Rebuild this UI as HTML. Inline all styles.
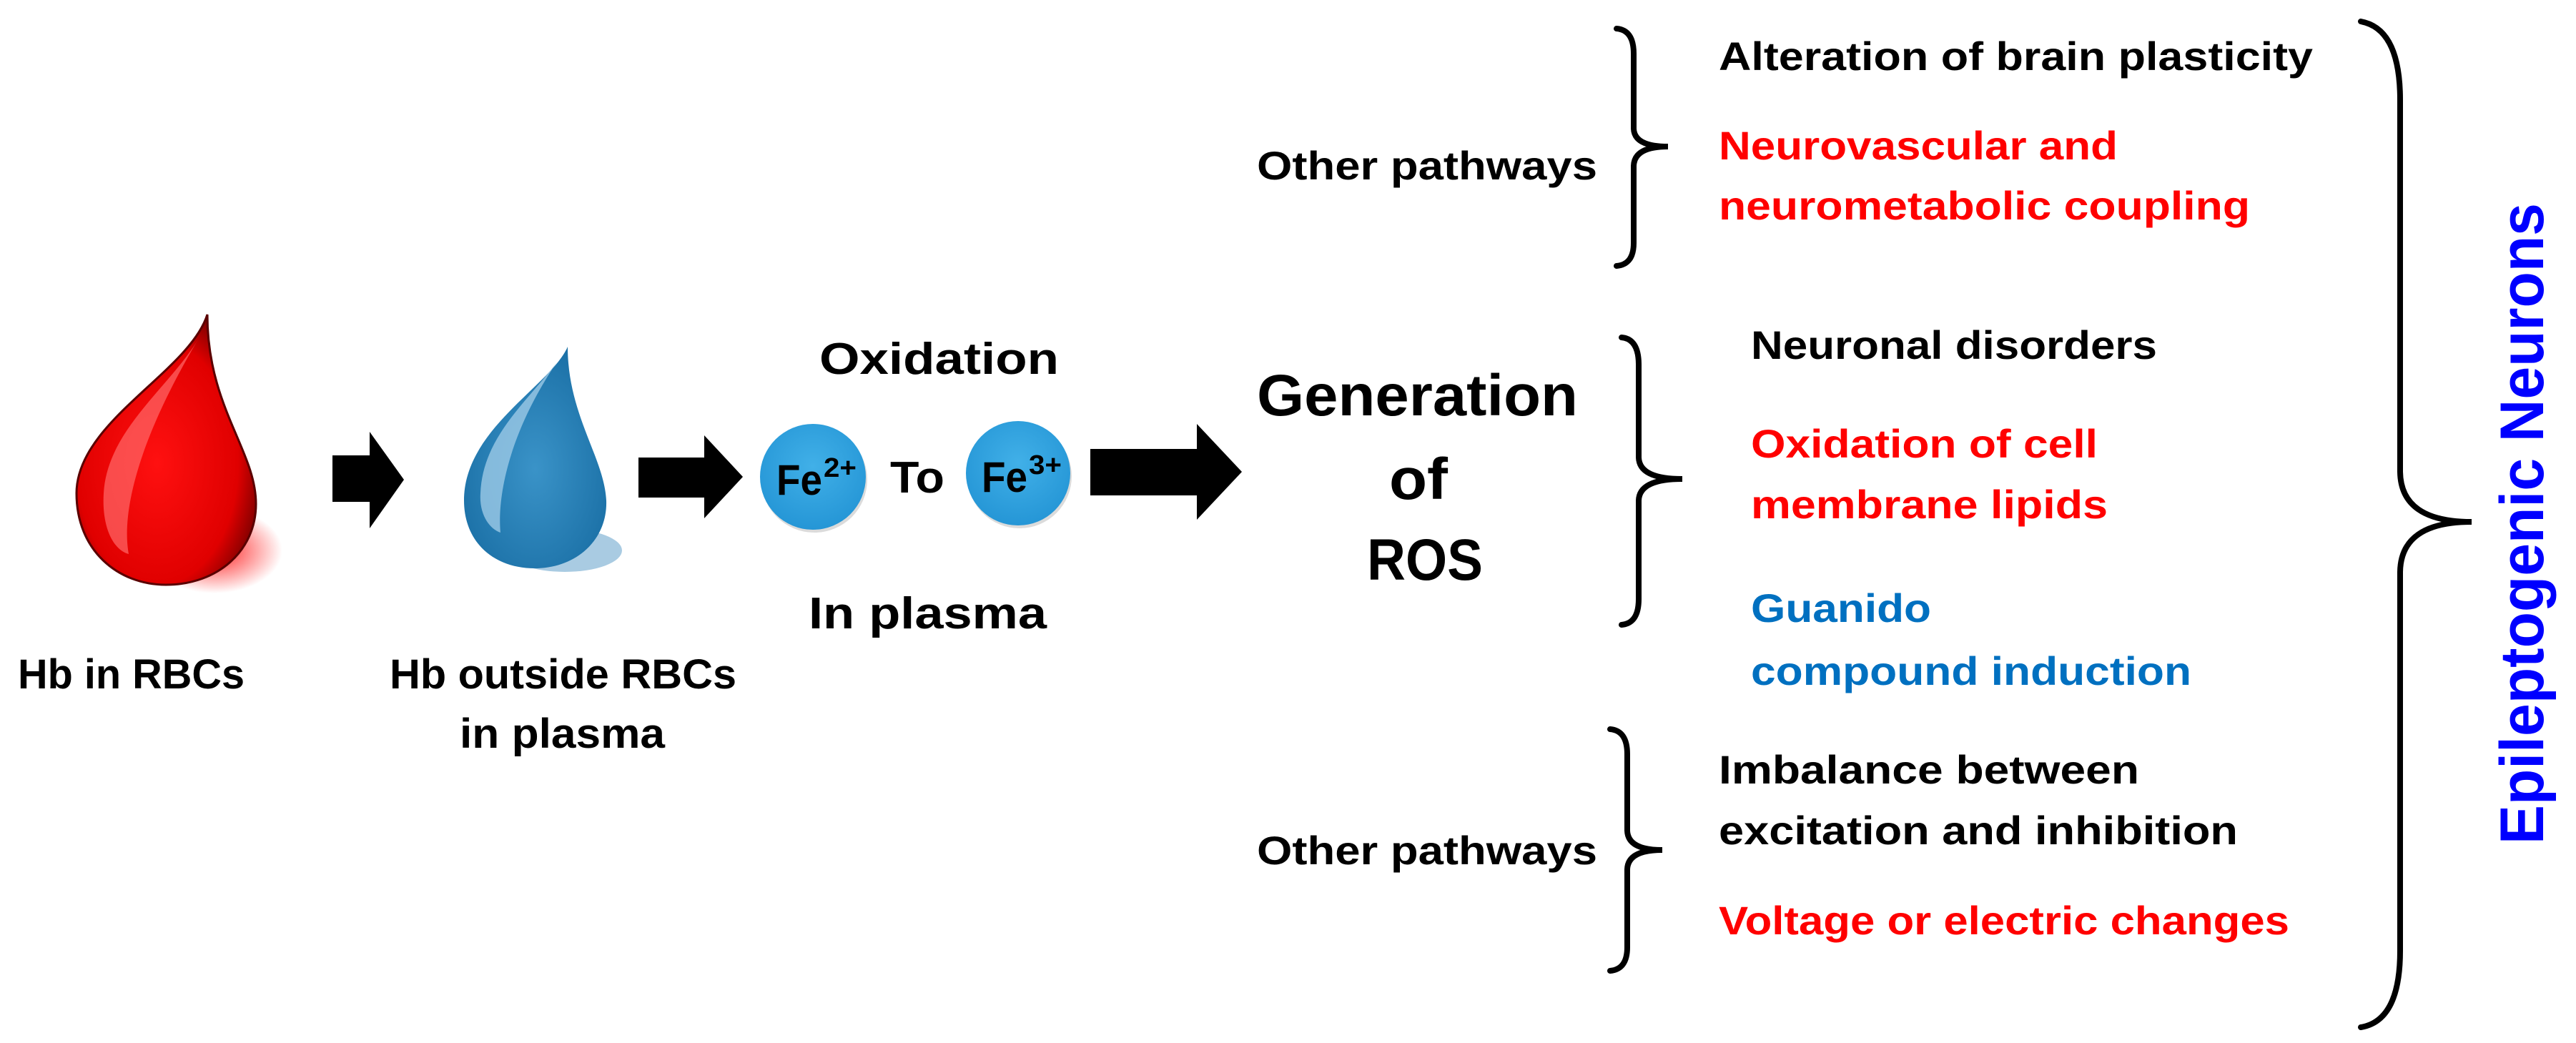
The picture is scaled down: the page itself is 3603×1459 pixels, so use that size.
<!DOCTYPE html>
<html><head><meta charset="utf-8"><style>
html,body{margin:0;padding:0;background:#fff;}
svg{display:block;}
text{font-family:"Liberation Sans",sans-serif;font-weight:bold;}
</style></head><body>
<svg width="3603" height="1459" viewBox="0 0 3603 1459" xmlns="http://www.w3.org/2000/svg">
<defs>
<radialGradient id="rg" cx="0.45" cy="0.55" r="0.6">
<stop offset="0" stop-color="#ff1010"/><stop offset="0.75" stop-color="#e00000"/><stop offset="1" stop-color="#7a0000"/>
</radialGradient>
<radialGradient id="bg" cx="0.5" cy="0.55" r="0.6">
<stop offset="0" stop-color="#3a93c8"/><stop offset="1" stop-color="#1a6fa5"/>
</radialGradient>
<radialGradient id="cg" cx="0.5" cy="0.4" r="0.6">
<stop offset="0" stop-color="#41b0e8"/><stop offset="1" stop-color="#2596d6"/>
</radialGradient>
<radialGradient id="rs" cx="0.5" cy="0.5" r="0.5">
<stop offset="0" stop-color="#ff0000" stop-opacity="0.9"/><stop offset="1" stop-color="#ff0000" stop-opacity="0"/>
</radialGradient>
</defs>

<!-- red drop -->
<ellipse cx="300" cy="770" rx="95" ry="60" fill="url(#rs)"/>
<path d="M290,440 C265,520 107,590 107,690 C107,770 165,818 232,818 C305,818 358,770 358,705 C358,630 290,570 290,440 Z" fill="url(#rg)" stroke="#5a0000" stroke-width="3"/>
<path d="M280,470 C240,540 150,600 145,690 C142,740 160,770 180,775 C170,720 190,620 280,470 Z" fill="#ff6a6a" opacity="0.7"/>

<!-- blue drop -->
<ellipse cx="790" cy="770" rx="80" ry="30" fill="#6fa9cf" opacity="0.6"/>
<path d="M794,485 C770,540 649,600 649,700 C649,758 690,795 748,795 C806,795 850,755 848,700 C845,640 794,580 794,485 Z" fill="url(#bg)"/>
<path d="M780,505 C740,560 675,610 672,690 C670,720 685,740 700,745 C695,690 715,600 780,505 Z" fill="#9cc9e6" opacity="0.8"/>

<!-- arrows -->
<polygon points="465,637 517,637 517,604 565,671 517,739 517,702 465,702" fill="#000"/>
<polygon points="893,640 985,640 985,609 1039,667 985,725 985,696 893,696" fill="#000"/>
<polygon points="1525,628 1674,628 1674,593 1737,660 1674,727 1674,693 1525,693" fill="#000"/>

<!-- circles -->
<circle cx="1139" cy="671" r="74" fill="#999" opacity="0.35"/>
<circle cx="1137" cy="667" r="74" fill="url(#cg)"/>
<circle cx="1426" cy="666" r="73" fill="#999" opacity="0.35"/>
<circle cx="1424" cy="662" r="73" fill="url(#cg)"/>
<text x="1086" y="692" font-size="60" textLength="64" lengthAdjust="spacingAndGlyphs">Fe</text>
<text x="1152" y="667" font-size="38" textLength="46" lengthAdjust="spacingAndGlyphs">2+</text>
<text x="1373" y="688" font-size="60" textLength="64" lengthAdjust="spacingAndGlyphs">Fe</text>
<text x="1439" y="663" font-size="38" textLength="46" lengthAdjust="spacingAndGlyphs">3+</text>
<text x="1245" y="689" font-size="62" textLength="76" lengthAdjust="spacingAndGlyphs">To</text>

<!-- left labels -->
<text x="25" y="963" font-size="58" textLength="317" lengthAdjust="spacingAndGlyphs">Hb in RBCs</text>
<text x="545" y="963" font-size="58" textLength="485" lengthAdjust="spacingAndGlyphs">Hb outside RBCs</text>
<text x="643" y="1046" font-size="58" textLength="287" lengthAdjust="spacingAndGlyphs">in plasma</text>
<text x="1146" y="523" font-size="62" textLength="335" lengthAdjust="spacingAndGlyphs">Oxidation</text>
<text x="1131" y="879" font-size="62" textLength="333" lengthAdjust="spacingAndGlyphs">In plasma</text>

<text x="1758" y="581" font-size="82" textLength="449" lengthAdjust="spacingAndGlyphs">Generation</text>
<text x="1943" y="698" font-size="82" textLength="82" lengthAdjust="spacingAndGlyphs">of</text>
<text x="1912" y="811" font-size="82" textLength="162" lengthAdjust="spacingAndGlyphs">ROS</text>

<text x="1758" y="251" font-size="56" textLength="476" lengthAdjust="spacingAndGlyphs">Other pathways</text>
<text x="1758" y="1209" font-size="56" textLength="476" lengthAdjust="spacingAndGlyphs">Other pathways</text>

<!-- braces -->
<g fill="none" stroke="#000" stroke-width="8" stroke-linecap="round">
<path d="M2261,40 Q2285,42 2285,75 L2285,180 Q2286,205 2333,205 Q2286,205 2285,232 L2285,340 Q2285,370 2261,372"/>
<path d="M2268,472 Q2292,474 2292,510 L2292,640 Q2293,670 2353,670 Q2293,670 2292,700 L2292,838 Q2292,872 2268,874"/>
<path d="M2252,1020 Q2276,1022 2276,1055 L2276,1162 Q2277,1189 2325,1189 Q2277,1189 2276,1216 L2276,1325 Q2276,1356 2252,1358"/>
<path d="M3302,30 Q3357,40 3357,140 L3357,660 Q3358,730 3457,730 Q3358,730 3357,800 L3357,1330 Q3357,1428 3302,1437"/>
</g>

<!-- right texts -->
<text x="2404" y="98" font-size="56" textLength="831" lengthAdjust="spacingAndGlyphs">Alteration of brain plasticity</text>
<text x="2404" y="223" font-size="56" fill="#ff0000" textLength="558" lengthAdjust="spacingAndGlyphs">Neurovascular and</text>
<text x="2404" y="307" font-size="56" fill="#ff0000" textLength="743" lengthAdjust="spacingAndGlyphs">neurometabolic coupling</text>
<text x="2449" y="502" font-size="56" textLength="568" lengthAdjust="spacingAndGlyphs">Neuronal disorders</text>
<text x="2449" y="640" font-size="56" fill="#ff0000" textLength="485" lengthAdjust="spacingAndGlyphs">Oxidation of cell</text>
<text x="2449" y="725" font-size="56" fill="#ff0000" textLength="499" lengthAdjust="spacingAndGlyphs">membrane lipids</text>
<text x="2449" y="870" font-size="56" fill="#0070c0" textLength="252" lengthAdjust="spacingAndGlyphs">Guanido</text>
<text x="2449" y="958" font-size="56" fill="#0070c0" textLength="616" lengthAdjust="spacingAndGlyphs">compound induction</text>
<text x="2404" y="1096" font-size="56" textLength="588" lengthAdjust="spacingAndGlyphs">Imbalance between</text>
<text x="2404" y="1181" font-size="56" textLength="726" lengthAdjust="spacingAndGlyphs">excitation and inhibition</text>
<text x="2404" y="1307" font-size="56" fill="#ff0000" textLength="798" lengthAdjust="spacingAndGlyphs">Voltage or electric changes</text>

<text transform="translate(3557,1181) rotate(-90)" x="0" y="0" font-size="86" fill="#0000ff" textLength="897" lengthAdjust="spacingAndGlyphs">Epileptogenic Neurons</text>
</svg>
</body></html>
